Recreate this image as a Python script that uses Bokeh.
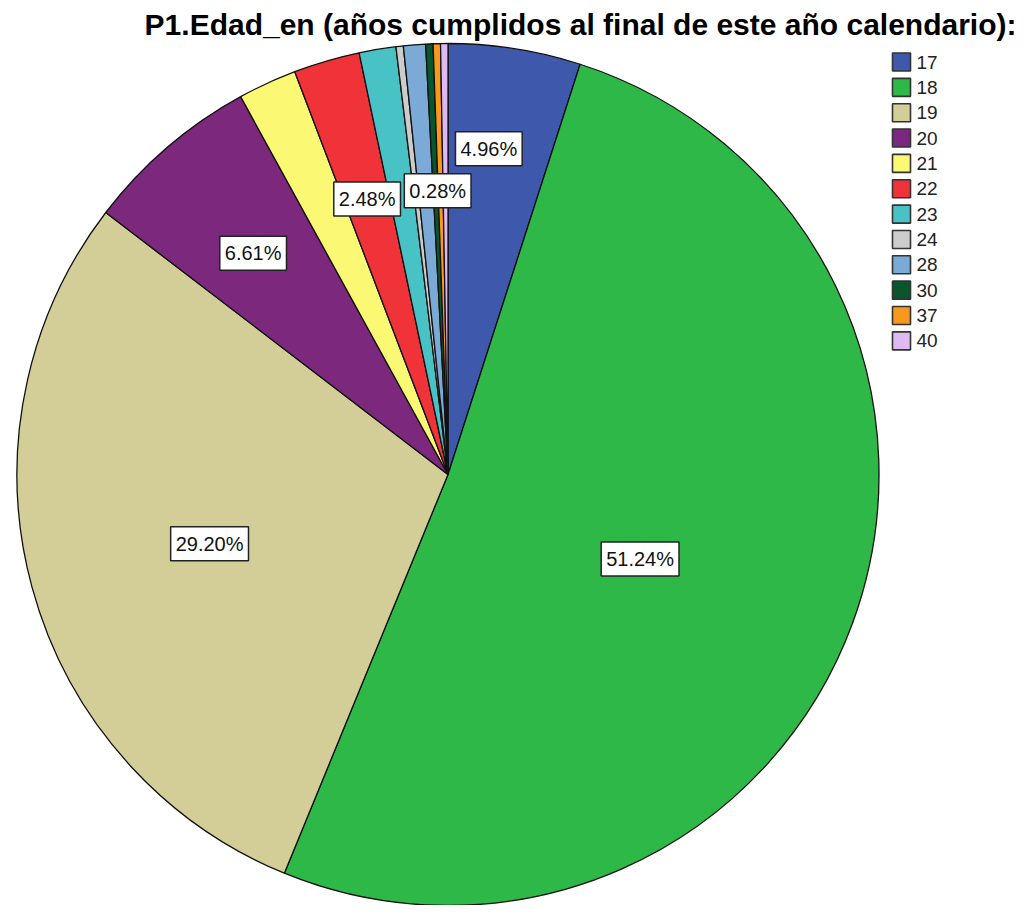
import math
from bokeh.plotting import figure
from bokeh.models import Range1d, ColumnDataSource, Label
from bokeh.core.properties import value
from bokeh.embed import file_html
from bokeh.resources import INLINE

# ---------------- data ----------------
title_text = "P1.Edad_en (años cumplidos al final de este año calendario):"
categories = ["17", "18", "19", "20", "21", "22", "23", "24", "28", "30", "37", "40"]
counts = [18, 186, 106, 24, 8, 9, 5, 1, 3, 1, 1, 1]
colors = ["#3E58AC", "#2EB848", "#D3CE97", "#7C287D", "#FBF873", "#EF3338",
          "#48C2C5", "#CCCCCC", "#7AAAD5", "#0A562C", "#F8981D", "#DDBAF1"]
labeled = ["17", "18", "19", "20", "22", "30"]
# label placement: fraction of the radius and position along the slice's arc
label_radius_frac = [0.762, 0.487, 0.576, 0.684, 0.666, 0.659]
label_angle_frac = [0.40, 0.52, 0.49, 0.47, 0.50, 0.90]

# ---------------- layout ----------------
W, H = 1017, 905
CX, CY_DOWN, R = 447.5, 474.0, 431.0
CY = H - CY_DOWN
FONT = "Liberation Sans"

p = figure(width=W, height=H, output_backend="svg", toolbar_location=None,
           x_range=Range1d(0, W), y_range=Range1d(0, H),
           x_axis_location=None, y_axis_location=None,
           min_border=0, min_border_left=0, min_border_right=0,
           min_border_top=0, min_border_bottom=0)
p.outline_line_color = None
p.grid.visible = False
p.background_fill_color = "white"
p.border_fill_color = "white"

total = sum(counts)
starts, ends, a_lo, a_hi, pcts = [], [], [], [], []
cum = 0.0
for c in counts:
    a0 = cum / total * 2 * math.pi
    cum += c
    a1 = cum / total * 2 * math.pi
    # clockwise from 12 o'clock -> standard anticlockwise angles
    starts.append(math.pi / 2 - a1)
    ends.append(math.pi / 2 - a0)
    a_lo.append(a0)
    a_hi.append(a1)
    pcts.append("%.2f%%" % (c / total * 100))

src = ColumnDataSource(dict(start=starts, end=ends, color=colors, cat=categories))
p.wedge(x=CX, y=CY, radius=R, start_angle="start", end_angle="end",
        direction="anticlock", fill_color="color", line_color="#111111",
        line_width=1.3, source=src)

# percentage labels
lx, ly, lt = [], [], []
for cat, fr, af in zip(labeled, label_radius_frac, label_angle_frac):
    i = categories.index(cat)
    a = a_lo[i] + af * (a_hi[i] - a_lo[i])
    lx.append(CX + fr * R * math.sin(a))
    ly.append(CY + fr * R * math.cos(a))
    lt.append(pcts[i])
lsrc = ColumnDataSource(dict(x=lx, y=ly, t=lt))
p.text(x="x", y="y", text="t", source=lsrc,
       text_align="center", text_baseline="middle",
       text_font=value(FONT), text_font_size="20px",
       text_color="#111111",
       background_fill_color="white",
       border_line_color="#222222", border_line_width=1.5,
       padding=dict(left=5, right=5, top=6, bottom=6))

# legend
n = len(categories)
gy = [H - (61.5 + 25.35 * i) for i in range(n)]
gsrc = ColumnDataSource(dict(x=[901] * n, tx=[916] * n, y=gy, color=colors, cat=categories))
p.rect(x="x", y="y", width=18, height=18, fill_color="color",
       line_color="#333333", line_width=1.6, source=gsrc)
p.text(x="tx", y="y", text="cat", text_baseline="middle", text_align="left",
       text_font=value(FONT), text_font_size="19px", text_color="#222222",
       source=gsrc)

# title
p.add_layout(Label(x=1016, y=H - 24, text=title_text, text_align="right",
                   text_baseline="alphabetic", text_font=FONT,
                   text_font_size="30px", text_font_style="bold",
                   text_color="#000000"))

open("out.html", "w").write(file_html(p, INLINE))
